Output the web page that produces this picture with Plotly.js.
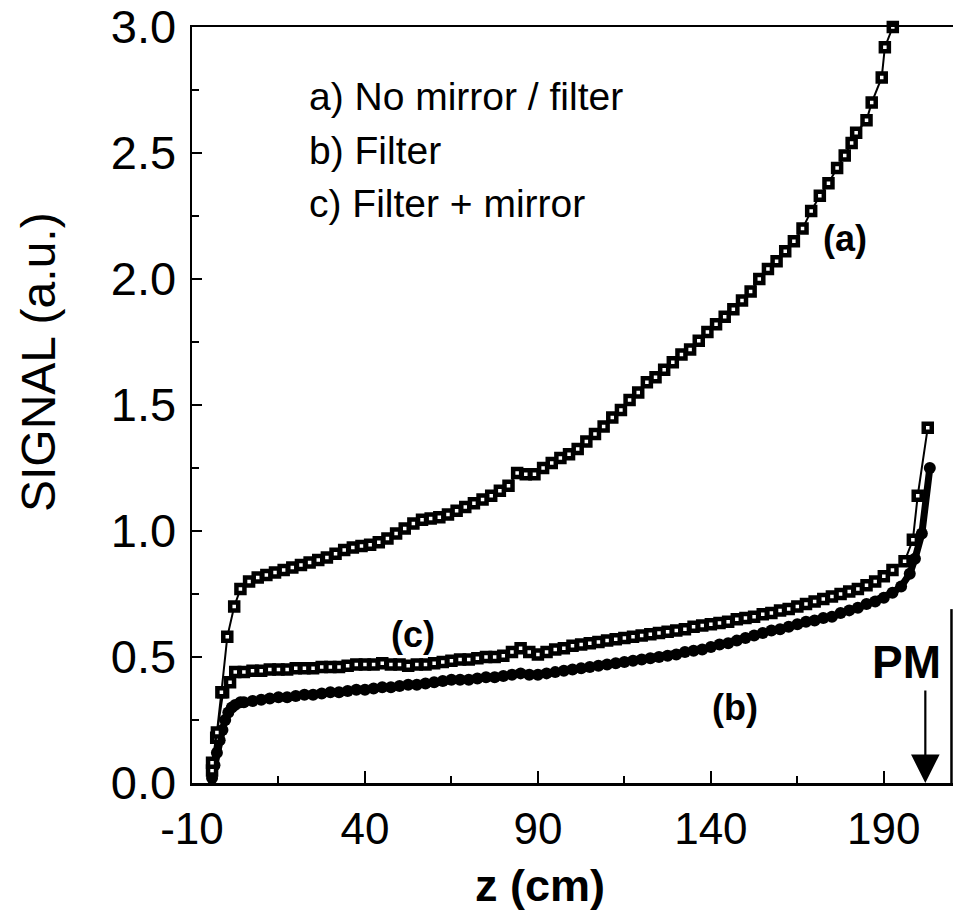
<!DOCTYPE html>
<html>
<head>
<meta charset="utf-8">
<script src="https://cdn.plot.ly/plotly-3.0.1.min.js"></script>
<style>html,body{margin:0;padding:0;background:#fff;}#chart{width:953px;height:920px;}</style>
</head>
<body>
<div id="chart"></div>
<script>
// ---- data (z in cm, signal in a.u.) ----
const zA = [-4.2,-2.8,-1.5,0.2,2.2,4,6.5,9,11.5,14,16.5,19,21.5,24,26.5,29,31.5,34,36.5,39,41.5,44,46.5,49,51.5,54,56.5,59,61.5,64,66.5,69,71.5,74,76.5,79,81.5,84,86.5,89,91.5,94,96.5,99,101.5,104,106.5,109,111.5,114,116.5,119,121.5,124,126.5,129,131.5,134,136.5,139,141.5,144,146.5,149,151.5,154,156.5,159,161.5,164,166.5,169,171.5,174,176.5,178.7,180.7,182,185,186.5,189.4,190.3,192.6];
const sigA = [0.08,0.2,0.36,0.58,0.70,0.77,0.80,0.815,0.825,0.835,0.845,0.855,0.865,0.875,0.885,0.895,0.91,0.925,0.935,0.94,0.945,0.955,0.97,0.99,1.01,1.03,1.045,1.05,1.055,1.065,1.08,1.095,1.11,1.125,1.14,1.16,1.18,1.23,1.225,1.225,1.25,1.27,1.29,1.305,1.325,1.355,1.385,1.415,1.45,1.48,1.52,1.55,1.59,1.61,1.64,1.67,1.70,1.72,1.755,1.79,1.82,1.85,1.88,1.915,1.95,2.00,2.04,2.07,2.11,2.15,2.20,2.27,2.33,2.38,2.44,2.49,2.54,2.58,2.63,2.70,2.80,2.92,3.00];

const zB = [-4.2,-3.5,-2.8,-2,-1.2,-0.4,0.5,1.5,2.5,4,5,7.5,10,12.5,15,17.5,20,22.5,25,27.5,30,32.5,35,37.5,40,42.5,45,47.5,50,52.5,55,57.5,60,62.5,65,67.5,70,72.5,75,77.5,80,82.5,85,87.5,90,92.5,95,97.5,100,102.5,105,107.5,110,112.5,115,117.5,120,122.5,125,127.5,130,132.5,135,137.5,140,142.5,145,147.5,150,152.5,155,157.5,160,162.5,165,167.5,170,172.5,175,177.5,180,182.5,185,187.5,190,192.5,195,197.5,199,201,203.3];
const sigB = [0.02,0.07,0.12,0.17,0.21,0.25,0.28,0.30,0.31,0.32,0.32,0.325,0.33,0.335,0.34,0.34,0.345,0.35,0.35,0.355,0.36,0.36,0.365,0.37,0.37,0.375,0.38,0.38,0.385,0.39,0.39,0.395,0.40,0.405,0.41,0.41,0.41,0.415,0.42,0.42,0.425,0.43,0.435,0.43,0.43,0.435,0.44,0.445,0.45,0.455,0.46,0.465,0.47,0.475,0.48,0.485,0.49,0.495,0.50,0.505,0.51,0.52,0.525,0.53,0.54,0.55,0.555,0.565,0.575,0.585,0.595,0.605,0.61,0.62,0.63,0.64,0.645,0.655,0.66,0.675,0.685,0.695,0.71,0.72,0.735,0.755,0.78,0.83,0.89,0.99,1.25];

const zC = [-4.2,-3,-1,1,2.5,5,7.5,10,12.5,15,17.5,20,22.5,25,27.5,30,32.5,35,37.5,40,42.5,45,47.5,50,52.5,55,57.5,60,62.5,65,67.5,70,72.5,75,77.5,80,82.5,85,87.5,90,92.5,95,97.5,100,102.5,105,107.5,110,112.5,115,117.5,120,122.5,125,127.5,130,132.5,135,137.5,140,142.5,145,147.5,150,152.5,155,157.5,160,162.5,165,167.5,170,172.5,175,177.5,180,182.5,185,187.5,190,192.5,196,198.4,199.8,202.7];
const sigC = [0.05,0.18,0.36,0.40,0.44,0.44,0.445,0.445,0.45,0.45,0.45,0.455,0.455,0.455,0.46,0.46,0.46,0.465,0.47,0.47,0.47,0.475,0.47,0.47,0.465,0.47,0.47,0.475,0.48,0.485,0.49,0.49,0.495,0.50,0.50,0.505,0.52,0.535,0.52,0.51,0.52,0.53,0.535,0.545,0.55,0.555,0.56,0.565,0.57,0.575,0.58,0.585,0.59,0.595,0.60,0.605,0.61,0.62,0.625,0.63,0.635,0.64,0.65,0.655,0.66,0.67,0.675,0.685,0.69,0.70,0.71,0.72,0.73,0.74,0.75,0.76,0.77,0.785,0.80,0.82,0.845,0.88,0.965,1.14,1.41];

const xTickVals = [-10, 40, 90, 140, 190];
const xTickText = ["-10", "40", "90", "140", "190"];
const legendLines = ["a) No mirror / filter", "b) Filter", "c) Filter + mirror"];
const curveLabels = [{t:"(a)", z:178.7, s:2.16}, {t:"(c)", z:54, s:0.59}, {t:"(b)", z:147, s:0.3}];
const pmZ = 202;

const FONT = "Liberation Sans, Arial, Helvetica, sans-serif";
const sq = {symbol:'square', size:8, color:'#fff', line:{color:'#000', width:4.5}};

const traces = [
  {x:zB, y:sigB, mode:'lines+markers', line:{color:'#000', width:7}, marker:{symbol:'circle', size:12, color:'#000'}, cliponaxis:false, hoverinfo:'skip'},
  {x:zC, y:sigC, mode:'lines+markers', line:{color:'#000', width:2}, marker:sq, cliponaxis:false, hoverinfo:'skip'},
  {x:zA, y:sigA, mode:'lines+markers', line:{color:'#000', width:2}, marker:sq, cliponaxis:false, hoverinfo:'skip'}
];

const ann = [];
legendLines.forEach((t,i)=>{
  ann.push({xref:'paper', yref:'paper', x:(307-192)/761, y:(783-[97,150,203][i])/756, xanchor:'left', yanchor:'middle', text:t, showarrow:false, font:{family:FONT, size:39, color:'#000'}});
});
curveLabels.forEach(c=>{
  ann.push({x:c.z, y:c.s, text:'<b>'+c.t+'</b>', showarrow:false, xanchor:'center', yanchor:'middle', font:{family:FONT, size:36, color:'#000'}});
});
ann.push({x:pmZ-5.5, y:0.48, text:'<b>PM</b>', showarrow:false, xanchor:'center', yanchor:'middle', font:{family:FONT, size:46, color:'#000'}});
ann.push({x:pmZ, y:0, ax:0, ay:-94, text:'', showarrow:true, arrowhead:2, arrowsize:2.6, arrowwidth:2.2, arrowcolor:'#000'});
ann.push({xref:'paper', yref:'paper', x:(38-192)/761, y:(783-362)/756, text:'SIGNAL (a.u.)', textangle:-90, showarrow:false, xanchor:'center', yanchor:'middle', font:{family:FONT, size:48, color:'#000'}});
ann.push({xref:'paper', yref:'paper', x:(540-192)/761, y:(783-885)/756, text:'<b>z (cm)</b>', showarrow:false, xanchor:'center', yanchor:'middle', font:{family:FONT, size:45, color:'#000'}});

const layout = {
  width:953, height:920,
  margin:{l:192, r:0, t:27, b:137},
  paper_bgcolor:'#fff', plot_bgcolor:'#fff',
  showlegend:false,
  font:{family:FONT, color:'#000'},
  xaxis:{range:[-10,210], tickmode:'array', tickvals:xTickVals, ticktext:xTickText, ticks:'inside', ticklen:12, tickwidth:2, tickcolor:'#000',
         minor:{dtick:25, tick0:-10, ticks:'inside', ticklen:7, tickwidth:2, tickcolor:'#000'},
         showline:true, linewidth:2.5, linecolor:'#000', mirror:true, showgrid:false, zeroline:false,
         tickfont:{family:FONT, size:44, color:'#000'}, ticklabelstandoff:6},
  yaxis:{range:[0,3], dtick:0.5, tickformat:'.1f', ticks:'inside', ticklen:10, tickwidth:2, tickcolor:'#000',
         minor:{dtick:0.25, ticks:'inside', ticklen:7, tickwidth:2, tickcolor:'#000'},
         showline:true, linewidth:2.5, linecolor:'#000', showgrid:false, zeroline:false,
         tickfont:{family:FONT, size:47, color:'#000'}, ticklabelstandoff:4},
  shapes:[{type:'line', xref:'paper', yref:'paper', x0:0.998, x1:0.998, y0:0, y1:0.23, line:{color:'#000', width:2.5}}],
  annotations:ann
};

Plotly.newPlot('chart', traces, layout, {staticPlot:true, displayModeBar:false});
</script>
</body>
</html>
